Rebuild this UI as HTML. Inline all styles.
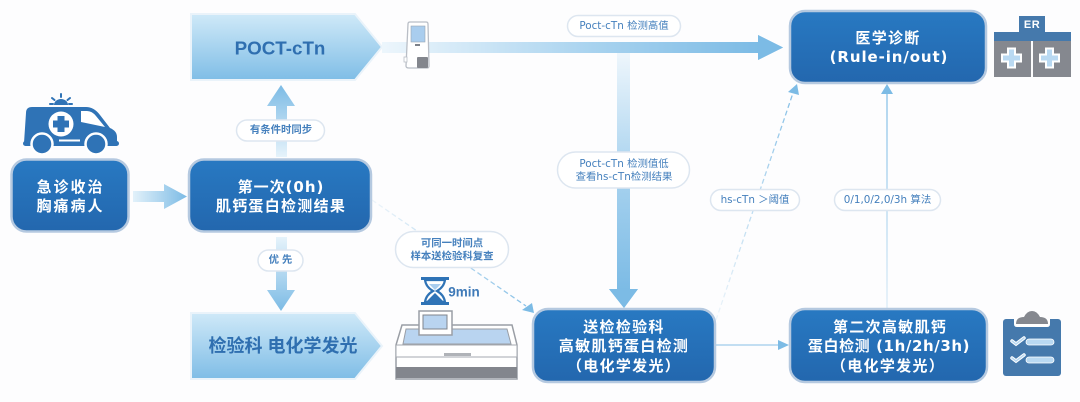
<!DOCTYPE html>
<html lang="zh">
<head>
<meta charset="utf-8">
<title>肌钙蛋白检测流程</title>
<style>
html,body{margin:0;padding:0;background:#fdfdfe;}
svg{display:block;filter:blur(0.35px);}
text{font-family:"DejaVu Sans","Noto Sans CJK SC",sans-serif;text-anchor:middle;dominant-baseline:central;}
.box{fill:url(#boxG);stroke:#b5c9e0;stroke-width:2.5;}
.bt{fill:#fff;font-size:15px;font-weight:700;letter-spacing:1.3px;}
.pill{fill:#fff;stroke:#dde6f0;stroke-width:1.5;}
.pt{fill:#4580bd;font-size:10.4px;font-weight:700;font-family:"Liberation Sans","Noto Sans CJK SC",sans-serif;}
.pl{fill:#4580bd;font-size:10.4px;font-family:"DejaVu Sans","Noto Sans CJK SC",sans-serif;}
.pent{fill:url(#pentG);stroke:#eaf3fa;stroke-width:2;}
</style>
</head>
<body>
<svg width="1080" height="402" viewBox="0 0 1080 402" xmlns="http://www.w3.org/2000/svg">
<defs>
<linearGradient id="boxG" x1="0" y1="0" x2="0" y2="1"><stop offset="0" stop-color="#2879c2"/><stop offset="1" stop-color="#2367ae"/></linearGradient>
<linearGradient id="pentG" x1="0" y1="0" x2="0" y2="1"><stop offset="0" stop-color="#cfe9f8"/><stop offset="1" stop-color="#7fbde6"/></linearGradient>
<linearGradient id="upG" x1="0" y1="0" x2="0" y2="1"><stop offset="0" stop-color="#7cbbe5"/><stop offset="1" stop-color="#e6f3fb"/></linearGradient>
<linearGradient id="dnG" x1="0" y1="0" x2="0" y2="1"><stop offset="0" stop-color="#e6f3fb"/><stop offset="1" stop-color="#7cbbe5"/></linearGradient>
<linearGradient id="rtG" x1="0" y1="0" x2="1" y2="0"><stop offset="0" stop-color="#e2f1fa"/><stop offset="1" stop-color="#7cbbe5"/></linearGradient>
<linearGradient id="rtLong" gradientUnits="userSpaceOnUse" x1="382" y1="0" x2="760" y2="0"><stop offset="0" stop-color="#edf6fc"/><stop offset="0.55" stop-color="#a9d3ef"/><stop offset="1" stop-color="#7cbbe5"/></linearGradient>
<linearGradient id="dnLong" gradientUnits="userSpaceOnUse" x1="0" y1="53" x2="0" y2="290"><stop offset="0" stop-color="#eef6fc"/><stop offset="0.5" stop-color="#a9d3ef"/><stop offset="1" stop-color="#7cbbe5"/></linearGradient>
<linearGradient id="thinUp" gradientUnits="userSpaceOnUse" x1="0" y1="308" x2="0" y2="90"><stop offset="0" stop-color="#dcecf7"/><stop offset="1" stop-color="#86c0e7"/></linearGradient>
<linearGradient id="dashA" gradientUnits="userSpaceOnUse" x1="372" y1="200" x2="530" y2="310"><stop offset="0" stop-color="#eef5fa"/><stop offset="1" stop-color="#85bfe6"/></linearGradient>
<linearGradient id="dashB" gradientUnits="userSpaceOnUse" x1="716" y1="320" x2="795" y2="90"><stop offset="0" stop-color="#eef5fa"/><stop offset="1" stop-color="#85bfe6"/></linearGradient>
</defs>
<rect width="1080" height="402" fill="#fdfdfe"/>

<!-- pentagons -->
<polygon class="pent" points="191,14 355,14 382,47 355,80 191,80"/>
<polygon class="pent" points="191,313 355,313 382,346 355,379 191,379"/>
<text x="280" y="48" style="font-size:18.800px;font-weight:700;fill:#2f6fb0;font-family:'Liberation Sans','Noto Sans CJK SC',sans-serif">POCT-cTn</text>
<text x="283" y="346" style="font-size:18px;font-weight:700;fill:#2f6fb0;font-family:'Liberation Sans','Noto Sans CJK SC',sans-serif">检验科 电化学发光</text>

<!-- thick arrows -->
<polygon fill="url(#upG)" points="281,85 295,106 287,106 287,157 276,157 276,106 267,106"/>
<polygon fill="url(#dnG)" points="276,237 287,237 287,290 295,290 281,311 267,290 276,290"/>
<polygon fill="url(#rtG)" points="133,191 164,191 164,184 187,196.500 164,209 164,202 133,202"/>
<polygon fill="url(#rtLong)" points="382,42 758,42 758,35 783,47.500 758,60 758,53 382,53"/>
<polygon fill="#7cbbe5" points="758,35 783,47.500 758,60"/>
<polygon fill="url(#dnLong)" points="617,53 630,53 630,289 638,289 624,308 609,289 617,289"/>
<polygon fill="#7cbbe5" points="609,289 638,289 624,308"/>

<!-- thin arrows -->
<line x1="372" y1="200" x2="526" y2="306" stroke="url(#dashA)" stroke-width="1.300" stroke-dasharray="5 3"/>
<polygon fill="#7cbbe5" points="534,313 522,310 532,303"/>
<line x1="716" y1="345" x2="780" y2="345" stroke="#9ecbea" stroke-width="1.200"/>
<polygon fill="#7cbbe5" points="789,345 778,340 778,350"/>
<line x1="887" y1="308" x2="887" y2="92" stroke="url(#thinUp)" stroke-width="1.300"/>
<polygon fill="#7cbbe5" points="887,84 881,94 893,94"/>
<line x1="716" y1="320" x2="793" y2="93" stroke="url(#dashB)" stroke-width="1.300" stroke-dasharray="5 3"/>
<polygon fill="#7cbbe5" points="797,84 788,92 799,95"/>

<!-- boxes -->
<rect class="box" x="11.500" y="159.500" width="117" height="72" rx="15"/>
<text class="bt" x="70.500" y="187" style="letter-spacing:2px">急诊收治</text>
<text class="bt" x="70.500" y="206" style="letter-spacing:2px">胸痛病人</text>

<rect class="box" x="189" y="159.500" width="182" height="72" rx="15"/>
<text class="bt" x="281" y="187" style="letter-spacing:1px">第一次(0h)</text>
<text class="bt" x="281" y="206">肌钙蛋白检测结果</text>

<rect class="box" x="533" y="309" width="182" height="73" rx="15"/>
<text class="bt" x="624" y="327">送检检验科</text>
<text class="bt" x="624" y="346">高敏肌钙蛋白检测</text>
<text class="bt" x="624" y="366">（电化学发光）</text>

<rect class="box" x="790" y="11" width="196" height="72" rx="15"/>
<text class="bt" x="888" y="38">医学诊断</text>
<text class="bt" x="889" y="57" style="letter-spacing:.9px">(Rule-in/out)</text>

<rect class="box" x="790" y="309" width="197" height="73" rx="15"/>
<text class="bt" x="890" y="327">第二次高敏肌钙</text>
<text class="bt" x="889" y="346" style="letter-spacing:.6px">蛋白检测 (1h/2h/3h)</text>
<text class="bt" x="888" y="366">（电化学发光）</text>

<!-- pills -->
<rect class="pill" x="236.500" y="120" width="88" height="21" rx="10.500"/>
<text class="pt" x="281" y="130.500">有条件时同步</text>
<rect class="pill" x="258" y="250" width="45" height="21" rx="10.500"/>
<text class="pt" x="280.500" y="260.500">优 先</text>
<rect class="pill" x="567.500" y="15.500" width="113" height="21" rx="10.500"/>
<text class="pl" x="624" y="26">Poct-cTn 检测高值</text>
<rect class="pill" x="557.500" y="152" width="132" height="36" rx="18"/>
<text class="pl" x="624" y="164">Poct-cTn 检测值低</text>
<text class="pl" x="624" y="177">查看hs-cTn检测结果</text>
<rect class="pill" x="710.500" y="189.500" width="89" height="21" rx="10.500"/>
<text class="pl" x="755" y="200">hs-cTn ＞阈值</text>
<rect class="pill" x="834.500" y="189.500" width="106" height="21" rx="10.500"/>
<text class="pl" x="887.500" y="200">0/1,0/2,0/3h 算法</text>
<rect class="pill" x="395.500" y="231.500" width="113" height="36" rx="18"/>
<text class="pt" x="452" y="244">可同一时间点</text>
<text class="pt" x="452" y="257">样本送检验科复查</text>

<!-- ambulance -->
<g>
<path d="M26,113 Q26,107 32,107 L86,107 Q94,107 100,115 L110,128 Q117,131 117,137 L117,143 L24,143 Z" fill="#2f73b6"/>
<rect x="23" y="141" width="96" height="5" rx="2.500" fill="#2f73b6"/>
<path d="M81,111 L87,111 Q92,111 96,116 L105,127 L81,122 Z" fill="#fff"/>
<circle cx="61" cy="124" r="12.500" fill="#fff"/>
<path d="M57.500,116 h7 v4.500 h4.500 v7 h-4.500 v4.500 h-7 v-4.500 h-4.500 v-7 h4.500 z" fill="#2f73b6"/>
<circle cx="42" cy="144" r="10.500" fill="#2f73b6" stroke="#fff" stroke-width="2.500"/>
<circle cx="96" cy="144" r="10.500" fill="#2f73b6" stroke="#fff" stroke-width="2.500"/>
<rect x="59" y="139.500" width="21" height="2" fill="#fff"/>
<path d="M54,105 a7,6 0 0 1 14,0 z" fill="#2f73b6"/>
<g stroke="#2f73b6" stroke-width="2" stroke-linecap="round">
<line x1="61" y1="94" x2="61" y2="97"/><line x1="52" y1="98" x2="54.500" y2="100"/><line x1="70" y1="98" x2="67.500" y2="100"/><line x1="50" y1="104" x2="53" y2="104"/><line x1="69" y1="104" x2="72" y2="104"/>
</g>
</g>

<!-- POCT device -->
<g>
<path d="M408,24 Q408,22 410,22 L426,22 Q428,22 428,24 L429,66 Q429,68 427,68 L409,68 Q406,68 406,66 Z" fill="#fff" stroke="#b9bec6" stroke-width="1.300"/>
<rect x="411" y="26" width="14" height="16" fill="#a9cdee" stroke="#9aa5b2" stroke-width=".6"/>
<rect x="415" y="44" width="5" height="2" fill="#7d828a"/>
<rect x="417" y="57" width="11" height="11" rx="1" fill="#83868d"/>
<rect x="404" y="57" width="3" height="5" fill="#fff" stroke="#b9bec6" stroke-width=".8"/>
</g>

<!-- hourglass -->
<g>
<rect x="421" y="277" width="28" height="3" fill="#2f73b6"/>
<rect x="421" y="302" width="28" height="3" fill="#2f73b6"/>
<path d="M425,280 H445 Q444,287 437,291 Q444,295 445,302 H425 Q426,295 433,291 Q426,287 425,280 Z" fill="#fff" stroke="#2f73b6" stroke-width="2.200"/>
<path d="M429,284 H441 L435,290 Z" fill="#a9cdee"/>
<path d="M427,301 L435,293 L443,301 Z" fill="#2f73b6"/>
</g>
<text x="464" y="292" style="font-size:13.500px;font-weight:700;fill:#3f7ab8;font-family:'Liberation Sans',sans-serif">9min</text>

<!-- analyzer -->
<g>
<path d="M402,325 H512 L517,345 V379 H396 V345 Z" fill="#fff" stroke="#9a9ea5" stroke-width="1.500"/>
<path d="M403,344 L406,329 H507 L511,344 Z" fill="#b9d4f0" stroke="#9a9ea5" stroke-width="1"/>
<rect x="396" y="345" width="121" height="12" fill="#fff" stroke="#a6aab0" stroke-width="1"/>
<rect x="444" y="353" width="27" height="3" fill="#b0b3b8"/>
<rect x="396" y="367" width="121" height="11" fill="#83868d"/>
<rect x="419" y="311" width="33" height="24" fill="#fff" stroke="#9a9ea5" stroke-width="1.500"/>
<rect x="423" y="315" width="24" height="14" fill="#b9d4f0" stroke="#80858c" stroke-width="1"/>
</g>

<!-- ER -->
<g>
<rect x="1019" y="16" width="26" height="17" fill="#4579ac"/>
<text x="1032" y="25" style="font-size:11px;font-weight:700;letter-spacing:.5px;fill:#fff;font-family:'Liberation Sans',sans-serif">ER</text>
<rect x="994" y="32" width="77" height="9" fill="#4579ac"/>
<rect x="994" y="41" width="37" height="36" fill="#85888f"/>
<rect x="1033" y="41" width="38" height="36" fill="#85888f"/>
<path d="M1009,49 h7 v6 h6 v7 h-6 v6 h-7 v-6 h-6 v-7 h6 z" transform="translate(-1,-0.500)" fill="#b9d9f2" stroke="#fff" stroke-width="2"/>
<path d="M1047,49 h7 v6 h6 v7 h-6 v6 h-7 v-6 h-6 v-7 h6 z" transform="translate(-1,-0.500)" fill="#b9d9f2" stroke="#fff" stroke-width="2"/>
</g>

<!-- clipboard -->
<g>
<rect x="1003" y="319" width="58" height="57" rx="3" fill="#4579ac"/>
<path d="M1014,319 h36 v5 q0,3 -3,3 h-30 q-3,0 -3,-3 z" fill="#fff"/>
<path d="M1016,324 Q1016,317 1024,317 Q1027,311 1032,311 Q1037,311 1040,317 Q1048,317 1048,324 Z" fill="#85888f"/>
<g stroke="#fff" stroke-width="3.500" fill="none" stroke-linecap="round">
<path d="M1012,341 l4,3 l8,-6"/><path d="M1012,358 l4,3 l8,-6"/>
</g>
<g stroke="#b9d9f2" stroke-width="1.500" fill="none" stroke-linecap="round">
<path d="M1012,341 l4,3 l8,-6"/><path d="M1012,358 l4,3 l8,-6"/>
</g>
<rect x="1026" y="339" width="28" height="6" rx="3" fill="#b9d9f2" stroke="#fff" stroke-width=".8"/>
<rect x="1026" y="357" width="28" height="6" rx="3" fill="#b9d9f2" stroke="#fff" stroke-width=".8"/>
</g>
</svg>
</body>
</html>
